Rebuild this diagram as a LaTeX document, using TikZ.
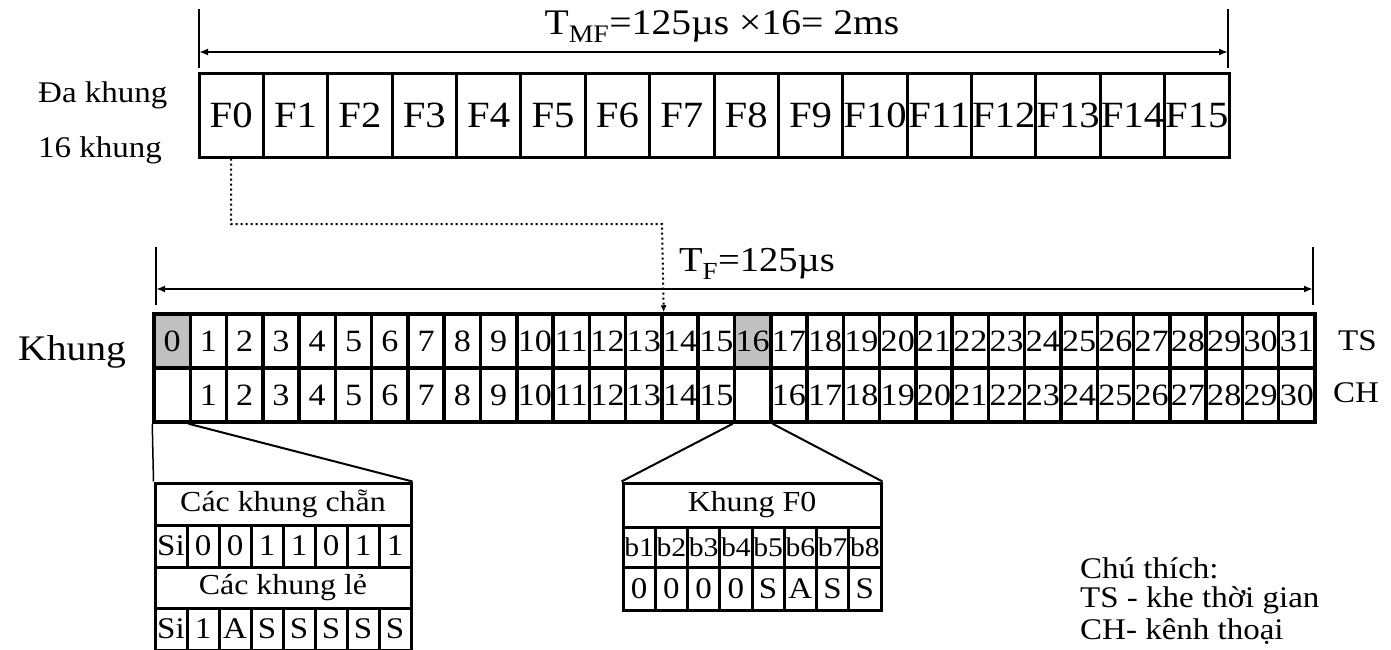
\documentclass[tikz,border=0pt]{standalone}
\usepackage{fontspec}
\setmainfont{Liberation Serif}[FakeStretch=1.1]
\usetikzlibrary{arrows.meta,calc}
\newcommand{\fsz}[1]{\fontsize{#1}{#1}\selectfont}
\begin{document}
\begin{tikzpicture}[x=1pt,y=-1pt,
  fcell/.style={draw, line width=3pt, minimum width=64.375pt, minimum height=83pt, inner sep=0pt, font=\fsz{37}},
  tcell/.style={draw, line width=3.5pt, minimum width=36.28pt, minimum height=54pt, inner sep=0pt, font=\fsz{31}},
  grey/.style={fill={rgb,255:red,192;green,192;blue,192}},
  titlebox/.style={draw, line width=3pt, inner sep=0pt, font=\fsz{29}},
  bcell/.style={draw, line width=3pt, minimum width=32pt, minimum height=42pt, inner sep=0pt, font=\fsz{30}},
  lbl/.style={inner sep=0pt, anchor=west},
  tick/.style={line width=1.5pt},
  dimarrow/.style={line width=2.5pt, {Latex[length=9pt,width=7pt]}-{Latex[length=9pt,width=7pt]}},
  diag/.style={line width=2pt},
  dotline/.style={line width=2pt, dash pattern=on 2pt off 3pt, -{Latex[length=7pt,width=6pt]}}
]
\useasboundingbox (0,0) rectangle (1391,650);

% ---------- multiframe ----------
\foreach \i in {0,...,15}
  \node[fcell] (f\i) at ({199+(\i+0.5)*64.375},115.5) {F\i};
\node[lbl, font=\fsz{30}] (da) at (38,95) {Đa khung};
\node[lbl, font=\fsz{30}] (mk) at (38,150) {16 khung};

\coordinate (mfLt) at (199,9);  \coordinate (mfLb) at (199,68);
\coordinate (mfRt) at (1228,9); \coordinate (mfRb) at (1228,68);
\coordinate (mfL) at (199,52);  \coordinate (mfR) at (1228,52);
\draw[tick] (mfLt) -- (mfLb);
\draw[tick] (mfRt) -- (mfRb);
\draw[dimarrow] (mfL) -- (mfR);
\node[font=\fsz{36}, inner sep=0pt] (tmf) at (722,27) {T\textsubscript{MF}=125µs ×16= 2ms};

% ---------- frame ----------
\foreach \i in {1,...,15,17,18,...,31}
  \node[tcell] (ts\i) at ({154+(\i+0.5)*36.28},341) {\i};
\node[tcell, grey] (ts0) at ({154+0.5*36.28},341) {0};
\node[tcell, grey] (ts16) at ({154+16.5*36.28},341) {16};
\foreach \i in {0,...,31}{
  \pgfmathtruncatemacro{\c}{\i>16 ? \i-1 : \i}
  \ifnum\i=0 \def\lab{}\else\ifnum\i=16 \def\lab{}\else\edef\lab{\c}\fi\fi
  \node[tcell] (ch\i) at ({154+(\i+0.5)*36.28},395) {\lab};
}
\node[lbl, font=\fsz{30}] (tsl) at (1338,341) {TS};
\node[lbl, font=\fsz{30}] (chl) at (1333,393) {CH};
\node[lbl, font=\fsz{36}] (kh) at (18,352) {Khung};

\coordinate (fLt) at (156,247);  \coordinate (fLb) at (156,305);
\coordinate (fRt) at (1313,247); \coordinate (fRb) at (1313,305);
\coordinate (fL) at (156,289);   \coordinate (fR) at (1313,289);
\draw[tick] (fLt) -- (fLb);
\draw[tick] (fRt) -- (fRb);
\draw[dimarrow] (fL) -- (fR);
\node[font=\fsz{35}, inner sep=0pt] (tf) at (757,264) {T\textsubscript{F}=125µs};

% dotted link
\coordinate (dv) at (662,224);
\draw[dotline] (f0.south) |- (dv) -- (ts13.north east);

% ---------- even / odd frames ----------
\node[titlebox, minimum width=256pt, minimum height=42pt] (ev) at (283,504) {Các khung chẵn};
\foreach \t [count=\k from 0] in {Si,0,0,1,1,0,1,1}
  \node[bcell] (e\k) at ({155+(\k+0.5)*32},546) {\t};
\node[titlebox, minimum width=256pt, minimum height=41pt] (od) at (283,587.5) {Các khung lẻ};
\foreach \t [count=\k from 0] in {Si,1,A,S,S,S,S,S}
  \node[bcell] (o\k) at ({155+(\k+0.5)*32},629) {\t};

% ---------- Khung F0 ----------
\node[titlebox, minimum width=258pt, minimum height=44pt] (kf) at (752,505) {Khung F0};
\foreach \k in {1,...,8}
  \node[bcell, minimum width=32.25pt, minimum height=40pt, font=\fsz{27}] (b\k) at ({623+(\k-0.5)*32.25},547) {b\k};
\foreach \t [count=\k] in {0,0,0,0,S,A,S,S}
  \node[bcell, minimum width=32.25pt, minimum height=43pt] (v\k) at ({623+(\k-0.5)*32.25},588.5) {\t};

% connectors
\draw[tick] (ch0.south west) -- (ev.north west);
\draw[diag] (ch1.south west) -- (ev.north east);
\draw[diag] (ch16.south west) -- (kf.north west);
\draw[diag] (ch16.south east) -- (kf.north east);

% ---------- legend ----------
\node[lbl, font=\fsz{30}] (lg1) at (1080,568) {Chú thích:};
\node[lbl, font=\fsz{30}] (lg2) at (1080,600) {TS - khe thời gian};
\node[lbl, font=\fsz{30}] (lg3) at (1080,632) {CH- kênh thoại};
\end{tikzpicture}
\end{document}
